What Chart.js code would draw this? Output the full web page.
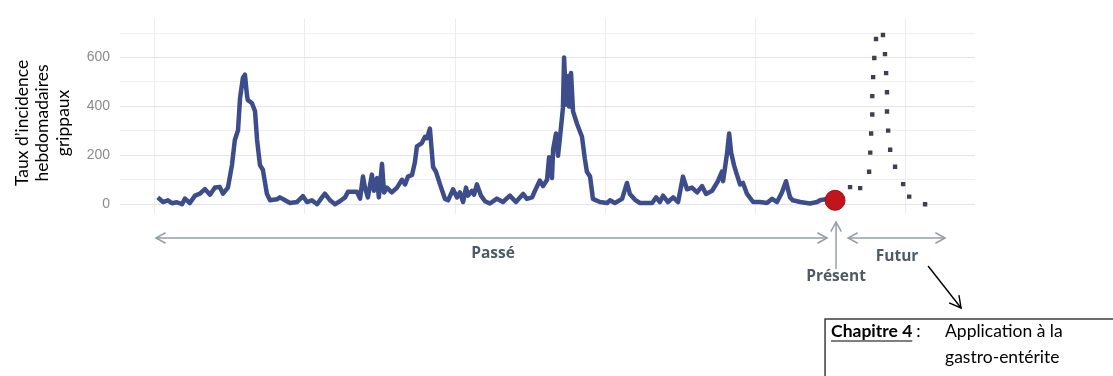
<!DOCTYPE html>
<html lang="fr">
<head>
<meta charset="utf-8">
<title>Taux d'incidence hebdomadaires grippaux</title>
<script src="https://cdn.jsdelivr.net/npm/chart.js@4.4.1/dist/chart.umd.min.js"></script>
<style>
  html, body { margin: 0; padding: 0; background: #fff; }
  #wrap { width: 1113px; height: 376px; }
</style>
</head>
<body>
<div id="wrap"><canvas id="chart" width="1113" height="376"></canvas></div>
<script>
// semaines depuis le début de la série (52 semaines entre deux lignes verticales)
const semaines = [
  1.0, 2.8, 4.5, 5.9, 7.6, 9.4, 10.4, 12.1, 13.9, 15.6, 17.3, 19.1, 20.8, 22.5, 23.6, 25.3,
  26.7, 27.7, 28.8, 29.5, 30.5, 31.2, 31.9, 32.2, 33.6, 34.7, 35.4, 36.4, 37.4, 38.8, 39.9,
  42.3, 43.3, 45.1, 46.8, 49.2, 51.3, 52.7, 54.4, 56.2, 57.9, 58.9, 60.7, 62.4, 64.1, 65.9,
  66.9, 70.0, 71.1, 72.1, 72.8, 73.8, 75.2, 75.9, 77.0, 77.6, 78.7, 79.4, 80.4, 82.1, 83.9,
  85.6, 86.7, 87.7, 89.1, 90.1, 90.8, 92.5, 93.6, 94.3, 95.3, 96.4, 97.4, 98.8, 100.5, 101.6,
  103.3, 104.7, 105.7, 106.8, 107.8, 108.5, 109.9, 110.6, 111.6, 113.0, 114.4, 116.1, 118.5,
  120.6, 123.0, 125.1, 127.6, 128.9, 130.7, 131.7, 133.4, 134.5, 135.9, 136.6, 137.6, 138.0,
  139.0, 139.7, 140.4, 141.4, 141.8, 142.5, 143.2, 143.5, 144.2, 144.9, 146.3, 148.0, 149.0,
  149.7, 150.8, 151.8, 154.2, 156.7, 157.7, 159.4, 161.9, 163.6, 164.6, 166.4, 168.1, 172.3,
  173.7, 175.0, 176.1, 177.8, 179.6, 181.3, 183.0, 184.4, 186.1, 187.9, 189.6, 191.0, 193.1,
  195.1, 196.5, 196.9, 198.3, 199.0, 199.7, 200.7, 201.7, 202.8, 203.8, 205.2, 207.3, 209.7,
  212.1, 213.9, 215.6, 217.3, 218.7, 220.1, 221.1, 223.6, 227.0, 229.5, 230.5, 232.9, 235.7
];
const incidence = [
  28, 9, 16, 4, 8, 0, 23, 5, 35, 43, 62, 39, 68, 70, 43, 68,
  160, 263, 302, 434, 517, 530, 446, 426, 414, 380, 263, 160, 141, 43, 16,
  20, 28, 16, 5, 9, 33, 9, 16, 0, 28, 43, 16, 0, 12, 28,
  51, 51, 23, 113, 68, 28, 121, 55, 107, 28, 165, 48, 68, 48, 68,
  100, 81, 113, 120, 172, 237, 250, 276, 270, 309, 152, 133, 81, 22, 16,
  61, 28, 48, 9, 68, 35, 55, 39, 81, 35, 12, 3, 23,
  9, 35, 9, 42, 22, 28, 55, 97, 74, 100, 192, 107, 224,
  289, 198, 276, 394, 600, 407, 524, 400, 537, 380, 328, 276, 185,
  133, 113, 22, 9, 5, 16, 5, 22, 87, 42, 18, 5, 5,
  28, 9, 35, 9, 28, 9, 113, 61, 68, 48, 74, 42, 55,
  94, 133, 94, 211, 289, 211, 159, 120, 81, 87, 42, 9, 9,
  5, 22, 9, 48, 94, 28, 16, 9, 3, 9, 16, 22, 16
];
// prévision (points)
const semainesPrevision = [
  240.9, 244.4, 247.5, 247.9, 248.2, 248.6, 248.6, 248.9, 249.3, 249.9, 252.3,
  253.0, 253.4, 253.7, 253.7, 254.1, 254.8, 256.5, 259.3, 261.4, 266.9
];
const prevision = [
  70, 66, 133, 211, 289, 367, 442, 520, 598, 676, 692,
  614, 536, 458, 379, 301, 223, 153, 82, 31, 0
];
// point "présent"
const semainePresent = 235.7;
const valeurPresent = 16;
// axes
const yGrille = [0, 100, 200, 300, 400, 500, 600, 700];
const yEtiquettes = [0, 200, 400, 600];
const xGrille = [0, 52, 104, 156, 208, 260];

const toXY = (xs, ys) => xs.map((x, i) => ({ x: x, y: ys[i] }));

function arrowHead(ctx, x, y, angle, len) {
  ctx.beginPath();
  ctx.moveTo(x - len * Math.cos(angle - 0.5), y - len * Math.sin(angle - 0.5));
  ctx.lineTo(x, y);
  ctx.lineTo(x - len * Math.cos(angle + 0.5), y - len * Math.sin(angle + 0.5));
  ctx.stroke();
}

const annotations = {
  id: 'annotations',
  afterDraw(chart) {
    const { ctx, chartArea, scales } = chart;
    const x = scales.x;
    const xStart = x.getPixelForValue(0);
    const xNow = x.getPixelForValue(semainePresent);
    const xEnd = x.getPixelForValue(semainesPrevision[semainesPrevision.length - 1]);
    const yArr = chartArea.bottom + 24;

    ctx.save();
    ctx.strokeStyle = '#939fa6';
    ctx.lineWidth = 1.5;
    // Passé
    ctx.beginPath();
    ctx.moveTo(xStart + 1, yArr);
    ctx.lineTo(xNow - 8, yArr);
    ctx.stroke();
    arrowHead(ctx, xStart + 1, yArr, Math.PI, 11);
    arrowHead(ctx, xNow - 8, yArr, 0, 11);
    // Présent
    ctx.beginPath();
    ctx.moveTo(xNow + 1, yArr + 31);
    ctx.lineTo(xNow + 1, chartArea.bottom + 8);
    ctx.stroke();
    arrowHead(ctx, xNow + 1, chartArea.bottom + 8, -Math.PI / 2, 11);
    // Futur
    ctx.beginPath();
    ctx.moveTo(xNow + 13, yArr);
    ctx.lineTo(xEnd + 20, yArr);
    ctx.stroke();
    arrowHead(ctx, xNow + 13, yArr, Math.PI, 11);
    arrowHead(ctx, xEnd + 20, yArr, 0, 11);

    ctx.fillStyle = '#4e5a66';
    ctx.font = 'bold 15.5px "Open Sans"';
    ctx.textAlign = 'center';
    ctx.textBaseline = 'middle';
    ctx.fillText('Passé', (xStart + xNow) / 2 - 2, yArr + 16);
    ctx.fillText('Présent', xNow + 1, yArr + 39);
    ctx.fillText('Futur', xEnd - 28, yArr + 19);

    // flèche noire vers le chapitre 4
    ctx.strokeStyle = '#000';
    ctx.lineWidth = 1.4;
    const ax0 = xEnd + 3, ay0 = chartArea.bottom + 52;
    const ax1 = xEnd + 36, ay1 = chartArea.bottom + 94;
    ctx.beginPath();
    ctx.moveTo(ax0, ay0);
    ctx.lineTo(ax1, ay1);
    ctx.stroke();
    arrowHead(ctx, ax1, ay1, Math.atan2(ay1 - ay0, ax1 - ax0), 13);

    // encadré
    const bx = xNow - 10, by = chartArea.bottom + 105;
    ctx.strokeStyle = '#3c3c3c';
    ctx.lineWidth = 1.5;
    ctx.strokeRect(bx, by, 400, 120);
    ctx.fillStyle = '#000';
    ctx.textAlign = 'left';
    ctx.font = 'bold 17.5px Lato';
    const chap = 'Chapitre 4';
    ctx.fillText(chap, bx + 6, by + 12);
    const w = ctx.measureText(chap).width;
    ctx.beginPath();
    ctx.lineWidth = 1.2;
    ctx.strokeStyle = '#000';
    ctx.moveTo(bx + 6, by + 22);
    ctx.lineTo(bx + 6 + w, by + 22);
    ctx.stroke();
    ctx.font = '17.5px Lato';
    ctx.fillText(':', bx + 10 + w, by + 12);
    ctx.fillText('Application à la', bx + 120, by + 12);
    ctx.fillText('gastro-entérite', bx + 120, by + 38);
    ctx.restore();
  }
};

const ctx = document.getElementById('chart').getContext('2d');
const chart = new Chart(ctx, {
  type: 'line',
  data: {
    datasets: [
      {
        label: 'Présent',
        data: [{ x: semainePresent, y: valeurPresent }],
        showLine: false,
        pointRadius: 10,
        pointBackgroundColor: '#c2141c',
        pointBorderColor: '#9c0e13',
        pointBorderWidth: 1,
        order: 0
      },
      {
        label: 'Incidence',
        data: toXY(semaines, incidence),
        borderColor: '#3d4d8b',
        borderWidth: 4.5,
        pointRadius: 0,
        tension: 0,
        borderJoinStyle: 'round',
        order: 1
      },
      {
        label: 'Prévision',
        data: toXY(semainesPrevision, prevision),
        showLine: false,
        pointStyle: 'rect',
        pointRadius: 3.1,
        pointBorderWidth: 0,
        pointBackgroundColor: '#3b4052',
        order: 2
      }
    ]
  },
  options: {
    responsive: false,
    animation: false,
    devicePixelRatio: 1,
    layout: { padding: { left: 0, top: 10, right: 138, bottom: 162 } },
    plugins: { legend: { display: false }, tooltip: { enabled: false } },
    scales: {
      x: {
        type: 'linear',
        min: -12.1,
        max: 284.2,
        afterBuildTicks: (s) => { s.ticks = xGrille.map(v => ({ value: v })); },
        afterFit: (s) => { s.height = 0; },
        ticks: { display: false },
        grid: { color: '#ececec', drawTicks: false },
        border: { display: false }
      },
      y: {
        min: -40,
        max: 760,
        afterBuildTicks: (s) => { s.ticks = yGrille.map(v => ({ value: v })); },
        afterFit: (s) => { s.width = 120; },
        ticks: {
          padding: 10,
          color: '#8a8a8a',
          font: { family: '"Liberation Sans", Arial, sans-serif', size: 14 },
          callback: (v) => yEtiquettes.includes(v) ? String(v) : ''
        },
        grid: {
          drawTicks: false,
          color: (c) => yEtiquettes.includes(c.tick.value) ? '#e4e4e4' : '#eeeeee'
        },
        border: { display: false },
        title: {
          display: true,
          text: ['Taux d’incidence\u00a0\u00a0\u00a0', 'hebdomadaires\u00a0\u00a0\u00a0', 'grippaux\u00a0\u00a0\u00a0'],
          color: '#000',
          font: { family: 'Lato', size: 17.5, lineHeight: 1.17 },
          padding: { top: 12, bottom: 0 }
        }
      }
    }
  },
  plugins: [annotations]
});
</script>
</body>
</html>
